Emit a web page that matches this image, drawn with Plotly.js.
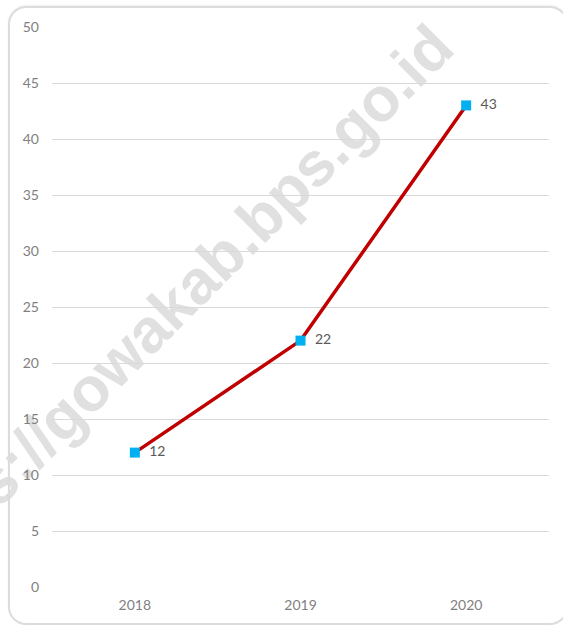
<!DOCTYPE html>
<html>
<head>
<meta charset="utf-8">
<script src="https://cdn.plot.ly/plotly-3.0.1.min.js"></script>
<style>
  html, body { margin: 0; padding: 0; background: #ffffff; }
  #wrap { position: relative; width: 563px; height: 627px; overflow: hidden; }
  #chart { position: absolute; left: 0; top: 0; width: 563px; height: 627px; }
  #frame { position: absolute; left: 8px; top: 6px; width: 556px; height: 615px;
           border: 2px solid #dcdcdc; border-radius: 18px; pointer-events: none;
           box-shadow: 0 -1px 2px rgba(0,0,0,0.06); }
</style>
</head>
<body>
<div id="wrap">
  <div id="chart"></div>
  <div id="frame"></div>
</div>
<script>
const categories = ["2018", "2019", "2020"];
const values = [12, 22, 43];
const yTicks = [0, 5, 10, 15, 20, 25, 30, 35, 40, 45, 50];
const watermark = "https://gowakab.bps.go.id";

const trace = {
  type: "scatter",
  mode: "lines+markers+text",
  x: categories,
  y: values,
  text: values.map(v => "  " + v),
  textposition: "middle right",
  textfont: { family: "Lato, 'Open Sans', sans-serif", size: 14, color: "#595959" },
  line: { color: "#c00000", width: 3.5 },
  marker: { symbol: "square", size: 10, color: "#00b0f0", line: { width: 0 } },
  cliponaxis: false,
  hoverinfo: "skip"
};

const layout = {
  width: 563,
  height: 627,
  margin: { l: 52, r: 14, t: 27, b: 40 },
  paper_bgcolor: "rgba(0,0,0,0)",
  plot_bgcolor: "rgba(0,0,0,0)",
  showlegend: false,
  font: { family: "Lato, 'Open Sans', sans-serif", size: 14, color: "#7f7f7f" },
  xaxis: {
    type: "category",
    range: [-0.5, 2.5],
    showgrid: false,
    zeroline: false,
    showline: false,
    ticks: "",
    ticklabelstandoff: 8,
    tickfont: { size: 14, color: "#7f7f7f" }
  },
  yaxis: {
    range: [0, 50],
    tickvals: yTicks,
    showgrid: true,
    gridcolor: "#d9d9d9",
    gridwidth: 1,
    zeroline: false,
    showline: false,
    ticks: "",
    ticklabelstandoff: 12,
    tickfont: { size: 14, color: "#7f7f7f" }
  },
  shapes: [{
    type: "rect",
    xref: "paper", yref: "paper",
    x0: 0.202, x1: 0.262, y0: 0.484, y1: 0.534,
    line: { width: 0 },
    fillcolor: "rgba(0,0,0,0)",
    layer: "between",
    label: {
      text: watermark,
      textangle: -45,
      textposition: "middle center",
      font: { family: "'Liberation Sans', Arial, sans-serif", size: 62, weight: "bold", color: "#e0e0e0" }
    }
  }]
};

Plotly.newPlot("chart", [trace], layout, { staticPlot: true, displayModeBar: false });
</script>
</body>
</html>
